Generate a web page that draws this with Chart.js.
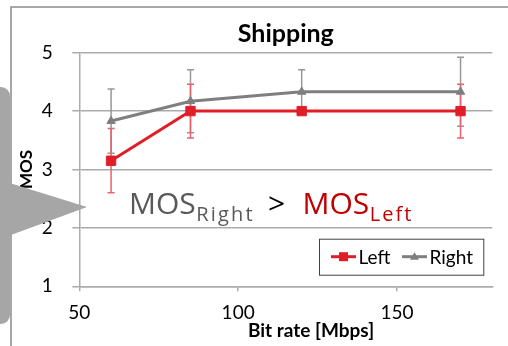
<!DOCTYPE html>
<html><head><meta charset="utf-8">
<script src="https://cdn.jsdelivr.net/npm/chart.js@4.4.1/dist/chart.umd.min.js"></script>
<style>html,body{margin:0;padding:0;background:#fff;overflow:hidden}#wrap{width:508px;height:346px;position:relative}</style>
</head><body><div id="wrap"><canvas id="c" width="508" height="346"></canvas></div>
<script>
// ---- data ----
const bitRates = [60, 85, 120, 170];
const leftMos = [3.15, 4.0, 4.0, 4.0];
const rightMos = [3.83, 4.17, 4.33, 4.33];
const leftErr = [0.55, 0.46, 0, 0.46];
const rightErr = [0.55, 0.54, 0.38, 0.59];
const xTicks = [50, 100, 150];
const yTicks = [1, 2, 3, 4, 5];
const seriesNames = ['Left', 'Right'];
const chartTitle = 'Shipping';
const xTitle = 'Bit rate [Mbps]';
const yTitle = 'MOS';

// ---- styles ----
const RED = '#E01E28', RED_ERR = '#E8626C';
const GRAY = '#7F7F7F', GRAY_ERR = '#979797';
const GRID = '#ABABAB';
const CAL = 'Lato, "Liberation Sans", sans-serif';
const SEG = '"Open Sans", "DejaVu Sans", sans-serif';

const errorBars = {
  id: 'errorBars',
  beforeDatasetsDraw(chart) {
    const ctx = chart.ctx, xs = chart.scales.x, ys = chart.scales.y;
    const order = [1, 0];
    order.forEach(di => {
      const ds = chart.data.datasets[di];
      ctx.save();
      ctx.strokeStyle = ds.errColor;
      ctx.lineWidth = 1.5;
      ds.data.forEach((p, i) => {
        const e = ds.errors[i];
        if (!e) return;
        const x = xs.getPixelForValue(p.x);
        const y1 = ys.getPixelForValue(p.y + e), y2 = ys.getPixelForValue(p.y - e);
        ctx.beginPath();
        ctx.moveTo(x, y1); ctx.lineTo(x, y2);
        ctx.moveTo(x - 3.5, y1); ctx.lineTo(x + 3.5, y1);
        ctx.moveTo(x - 3.5, y2); ctx.lineTo(x + 3.5, y2);
        ctx.stroke();
      });
      ctx.restore();
    });
  }
};

const decor = {
  id: 'decor',
  beforeDraw(chart) {
    const ctx = chart.ctx;
    ctx.save();
    ctx.fillStyle = '#fff';
    ctx.fillRect(0, 0, chart.width, chart.height);
    ctx.strokeStyle = '#8C8C8C';
    ctx.lineWidth = 1.5;
    ctx.beginPath();
    ctx.moveTo(11, chart.height); ctx.lineTo(11, 7); ctx.lineTo(chart.width, 7);
    ctx.stroke();
    ctx.restore();
  },
  afterDraw(chart) {
    const ctx = chart.ctx;
    ctx.save();
    // x axis title
    ctx.fillStyle = '#000';
    ctx.font = 'bold 19px ' + CAL;
    ctx.textAlign = 'center';
    ctx.textBaseline = 'alphabetic';
    ctx.fillText(xTitle, 311, 337);

    // legend
    const lx = 319, ly = 238.7, lw = 164.3, lh = 36;
    ctx.fillStyle = '#fff';
    ctx.fillRect(lx, ly, lw, lh);
    ctx.strokeStyle = '#404040';
    ctx.lineWidth = 1;
    ctx.strokeRect(lx + 0.5, ly + 0.5, lw, lh);
    const cy = ly + lh / 2;
    const items = [
      {x0: 331, x1: 356, tx: 358.5, ds: chart.data.datasets[0]},
      {x0: 402, x1: 427, tx: 429.5, ds: chart.data.datasets[1]}
    ];
    items.forEach(it => {
      ctx.strokeStyle = it.ds.borderColor;
      ctx.lineWidth = 3;
      ctx.beginPath(); ctx.moveTo(it.x0, cy); ctx.lineTo(it.x1, cy); ctx.stroke();
      ctx.fillStyle = it.ds.borderColor;
      const mx = (it.x0 + it.x1) / 2;
      if (it.ds.pointStyle === 'rect') {
        ctx.fillRect(mx - 4.5, cy - 4.5, 9, 9);
      } else {
        ctx.beginPath();
        ctx.moveTo(mx, cy - 4.5); ctx.lineTo(mx + 4.5, cy + 3); ctx.lineTo(mx - 4.5, cy + 3);
        ctx.closePath(); ctx.fill();
      }
      ctx.fillStyle = '#000';
      ctx.font = '19px ' + CAL;
      ctx.textAlign = 'left';
      ctx.fillText(it.ds.label, it.tx, 263.5);
    });

    // annotation text: MOS_Right > MOS_Left
    ctx.textAlign = 'left';
    const big = '30px ' + SEG, small = '20px ' + SEG;
    const drawMos = (x, color, sub, spacing) => {
      ctx.fillStyle = color;
      ctx.font = big;
      ctx.fillText('MOS', x, 213.5);
      const w = ctx.measureText('MOS').width;
      ctx.font = small;
      ctx.letterSpacing = spacing;
      ctx.fillText(sub, x + w + 0.5, 221);
      ctx.letterSpacing = '0px';
    };
    drawMos(129, '#595959', 'Right', '2.2px');
    ctx.fillStyle = '#000';
    ctx.font = big;
    ctx.fillText('>', 268, 213.5);
    drawMos(302.5, '#C00000', 'Left', '2px');

    // callout shape
    ctx.fillStyle = '#A6A6A6';
    ctx.beginPath();
    ctx.roundRect(-14, 87, 24, 237, 9);
    ctx.fill();
    ctx.beginPath();
    ctx.moveTo(0, 180); ctx.lineTo(87, 207); ctx.lineTo(0, 239);
    ctx.closePath();
    ctx.fill();
    ctx.restore();
  }
};

const toPts = ys => bitRates.map((x, i) => ({x: x, y: ys[i]}));

new Chart(document.getElementById('c'), {
  type: 'line',
  data: {
    datasets: [
      {label: seriesNames[0], data: toPts(leftMos), errors: leftErr, errColor: RED_ERR,
       borderColor: RED, backgroundColor: RED, borderWidth: 3, pointStyle: 'rect',
       pointRadius: 6.6, pointBorderWidth: 1, tension: 0},
      {label: seriesNames[1], data: toPts(rightMos), errors: rightErr, errColor: GRAY_ERR,
       borderColor: GRAY, backgroundColor: GRAY, borderWidth: 3, pointStyle: 'triangle',
       pointRadius: 4.8, pointBorderWidth: 1, tension: 0}
    ]
  },
  options: {
    responsive: false,
    animation: false,
    devicePixelRatio: 1,
    layout: {padding: {left: 0, right: 15.7, top: 0, bottom: 0}},
    plugins: {
      legend: {display: false},
      tooltip: {enabled: false},
      title: {display: true, text: chartTitle, fullSize: false, color: '#000',
        font: {family: CAL, size: 25, weight: 'bold'}, padding: {top: 18.8, bottom: 3.9}}
    },
    scales: {
      x: {
        type: 'linear', min: 50, max: 180,
        afterBuildTicks: s => { s.ticks = xTicks.map(v => ({value: v})); },
        afterFit: s => { s.height = 346 - 286.3; },
        grid: {display: true, drawOnChartArea: false, drawTicks: true, tickLength: 5, color: GRID, lineWidth: 1.5},
        border: {display: true, color: GRID, width: 1.5},
        ticks: {color: '#000', font: {family: CAL, size: 19}, padding: 10.5, maxRotation: 0, autoSkip: false}
      },
      y: {
        type: 'linear', min: 1, max: 5,
        afterBuildTicks: s => { s.ticks = yTicks.map(v => ({value: v})); },
        afterFit: s => { s.width = 79.3; },
        grid: {display: true, drawOnChartArea: true, drawTicks: true, tickLength: 7, color: GRID, lineWidth: 1.5},
        border: {display: true, color: GRID, width: 1.5},
        ticks: {color: '#000', font: {family: CAL, size: 19}, padding: 19.5},
        title: {display: true, text: yTitle, color: '#000', font: {family: CAL, size: 17, weight: 'bold'}, padding: {top: 16.3, bottom: 0}}
      }
    }
  },
  plugins: [decor, errorBars]
});
</script>
</body></html>
